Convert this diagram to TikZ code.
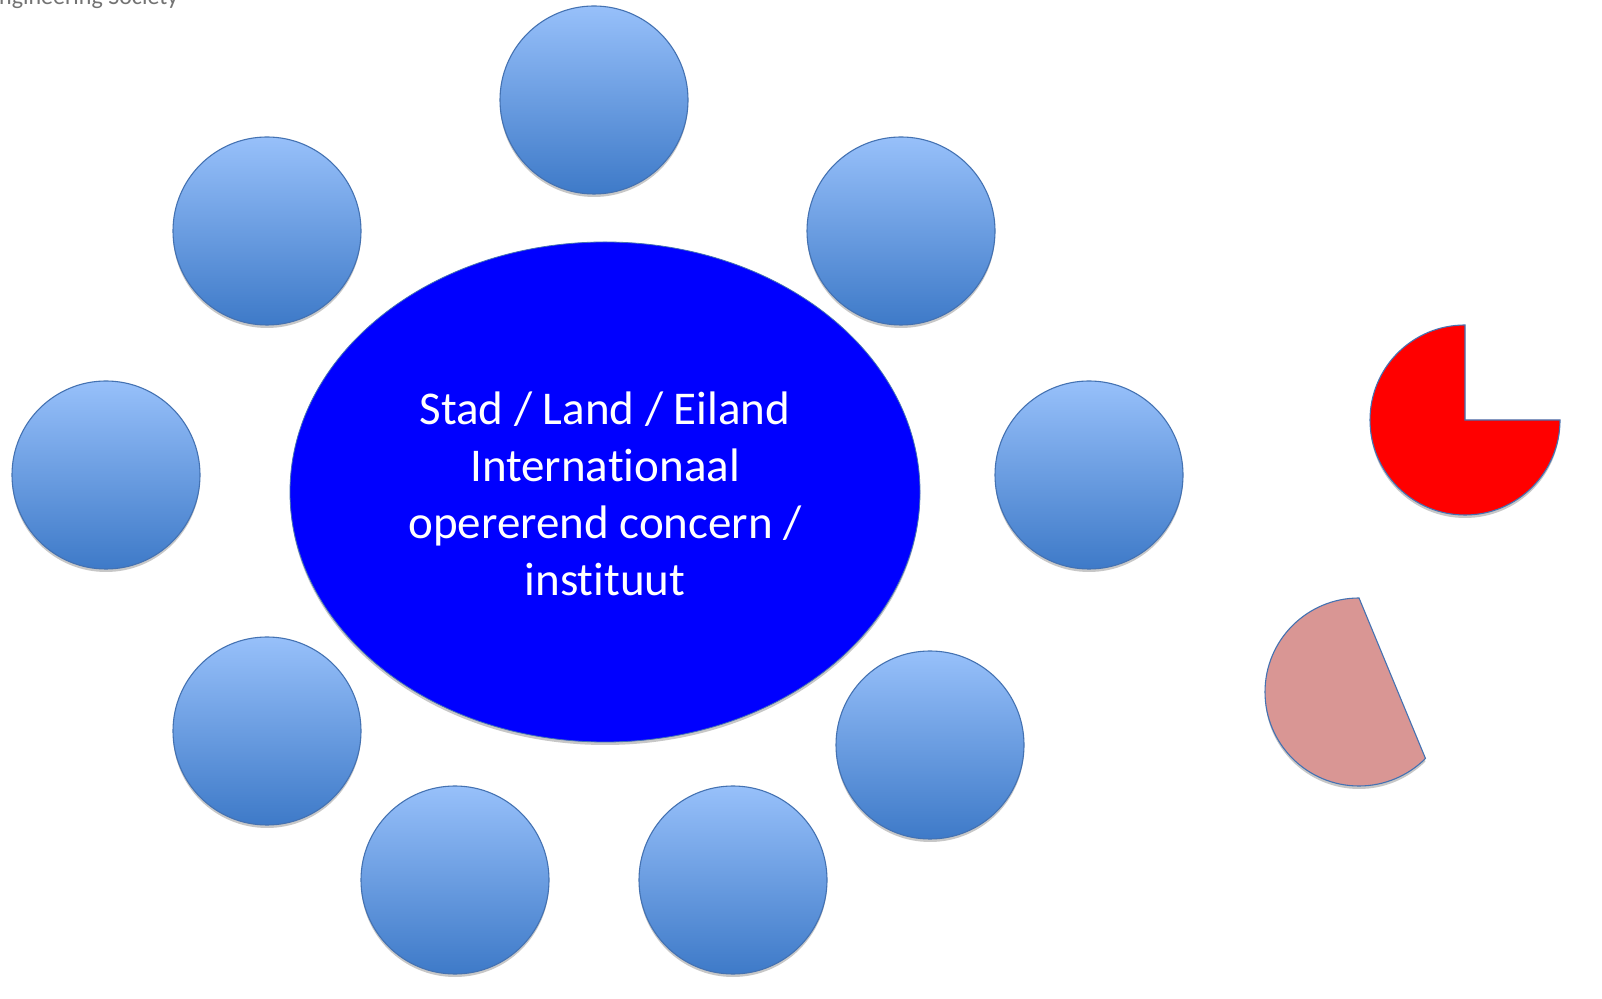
\documentclass[tikz,border=0pt]{standalone}
\usepackage{fontspec}
\setmainfont{Carlito}[Ligatures=NoCommon]
\usetikzlibrary{shapes.geometric,shadows,calc}
\definecolor{lightb}{RGB}{151,192,250}
\definecolor{darkb}{RGB}{62,122,200}
\definecolor{edgeb}{RGB}{68,114,178}
\definecolor{pinkfill}{RGB}{217,150,148}
\definecolor{hdrgray}{RGB}{115,115,115}
\begin{document}
\begin{tikzpicture}[x=1pt,y=1pt,
  bubble/.style={circle, minimum size=188pt, inner sep=0pt, draw=edgeb, line width=1.1pt,
    top color=lightb, bottom color=darkb,
    drop shadow={shadow xshift=0pt, shadow yshift=-3pt, opacity=0.22, fill=black}},
  core/.style={ellipse, minimum width=630pt, minimum height=500pt, inner sep=0pt,
    fill={rgb,255:red,0;green,0;blue,255}, draw=edgeb, line width=0.8pt,
    drop shadow={shadow xshift=0pt, shadow yshift=-3pt, opacity=0.22, fill=black}},
  piece/.style={draw=edgeb, line width=1.1pt,
    drop shadow={shadow xshift=0pt, shadow yshift=-3pt, opacity=0.22, fill=black}}
]
\useasboundingbox (0,0) rectangle (1602,998);
\fill[white] (0,0) rectangle (1602,998);

\node[anchor=base west, text=hdrgray, font=\fontsize{24}{28}\selectfont, inner sep=0pt] (hdr) at (-1,993) {ngineering Society};

\node[bubble] (c1) at (594,898) {};
\node[bubble] (c2) at (267,767) {};
\node[bubble] (c3) at (901,767) {};
\node[bubble] (c4) at (106,523) {};
\node[bubble] (c5) at (1089,523) {};
\node[bubble] (c6) at (267,267) {};
\node[bubble] (c7) at (455,118) {};
\node[bubble] (c8) at (733,118) {};
\node[bubble] (c9) at (930,253) {};

\node[core] (hub) at (605,506) {};
\node[text=white, align=center, font=\fontsize{47}{57}\selectfont, inner sep=0pt] (lbl) at (605,504)
  {Stad / Land / Eiland\\Internationaal\\opererend concern /\\instituut};

\coordinate (redc) at (1465,578);
\path[piece, fill=red] (redc) -- ++(90:95) arc[start angle=90, end angle=360, radius=95] -- cycle;

\coordinate (pinkc) at (1359,306);
\path[piece, fill=pinkfill] ($(pinkc)+(90:94)$) arc[start angle=90, end angle=315, radius=94] -- cycle;
\end{tikzpicture}
\end{document}
